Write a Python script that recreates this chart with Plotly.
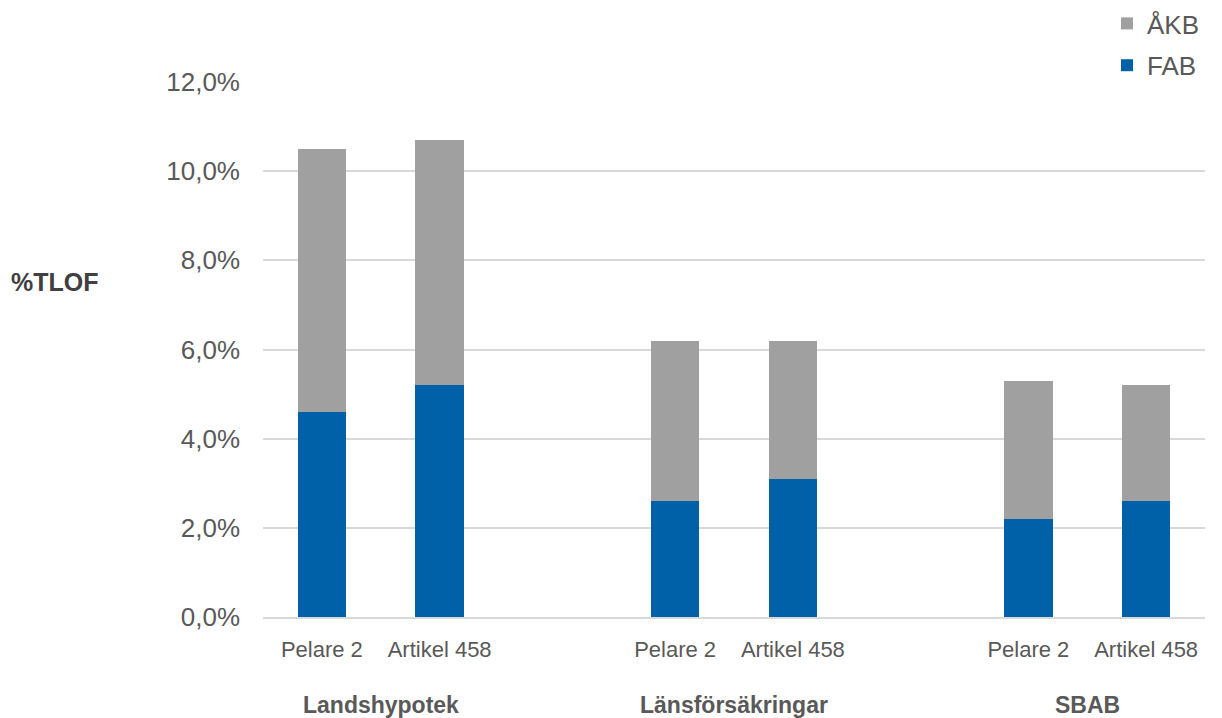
import plotly.graph_objects as go

groups = ["Landshypotek", "Länsförsäkringar", "SBAB"]
bar_labels = ["Pelare 2", "Artikel 458", "Pelare 2", "Artikel 458", "Pelare 2", "Artikel 458"]
bar_pos = [0, 1, 3, 4, 6, 7]
group_pos = [0.5, 3.5, 6.5]
fab = [4.6, 5.2, 2.6, 3.1, 2.2, 2.6]
akb = [5.9, 5.5, 3.6, 3.1, 3.1, 2.6]
y_ticks = [0, 2, 4, 6, 8, 10, 12]
y_ticktext = ["0,0%", "2,0%", "4,0%", "6,0%", "8,0%", "10,0%", "12,0%"]

BLUE = "#0060A8"
GRAY = "#A0A0A0"
TXT = "#595959"

fig = go.Figure()
fig.add_bar(x=bar_pos, y=fab, name="FAB", marker=dict(color=BLUE, line=dict(width=0)),
            width=0.41, legendgroup="fab", legendrank=2)
fig.add_bar(x=bar_pos, y=akb, name="ÅKB", marker=dict(color=GRAY, line=dict(width=0)),
            width=0.41, legendgroup="akb", legendrank=1)

for g, p in zip(groups, group_pos):
    fig.add_annotation(x=p, xref="x", y=-0.165, yref="paper", text="<b>%s</b>" % g,
                       showarrow=False, font=dict(family="Liberation Sans, Arial", size=23, color=TXT),
                       yanchor="middle")

fig.add_annotation(xref="paper", yref="paper", x=-0.27, y=(617 - 282) / 535, text="<b>%TLOF</b>",
                   showarrow=False, xanchor="left", yanchor="middle",
                   font=dict(family="Liberation Sans, Arial", size=25, color="#404040"))

fig.update_layout(
    width=1222, height=718,
    barmode="stack",
    plot_bgcolor="white", paper_bgcolor="white",
    margin=dict(l=263, r=17, t=82, b=101, autoexpand=False),
    font=dict(family="Liberation Sans, Arial", color=TXT),
    xaxis=dict(tickmode="array", tickvals=bar_pos, ticktext=bar_labels, range=[-0.5, 7.5],
               showgrid=False, showline=True, linecolor="#D9D9D9", linewidth=2, ticks="",
               tickfont=dict(size=22, color=TXT), ticklabelstandoff=12, zeroline=False,
               automargin=False),
    yaxis=dict(range=[0, 12], tickmode="array", tickvals=y_ticks, ticktext=y_ticktext,
               showgrid=True, gridcolor="#D9D9D9", gridwidth=1.5, zeroline=False, ticks="",
               tickfont=dict(size=26, color=TXT), ticklabelstandoff=22, showline=False,
               automargin=False),
    legend=dict(x=1.0, xanchor="right", yref="container", y=1.0, yanchor="top",
                traceorder="grouped", tracegroupgap=5,
                font=dict(size=26, color=TXT), bgcolor="rgba(0,0,0,0)"),
    bargap=0,
)

fig.write_html("out.html")
